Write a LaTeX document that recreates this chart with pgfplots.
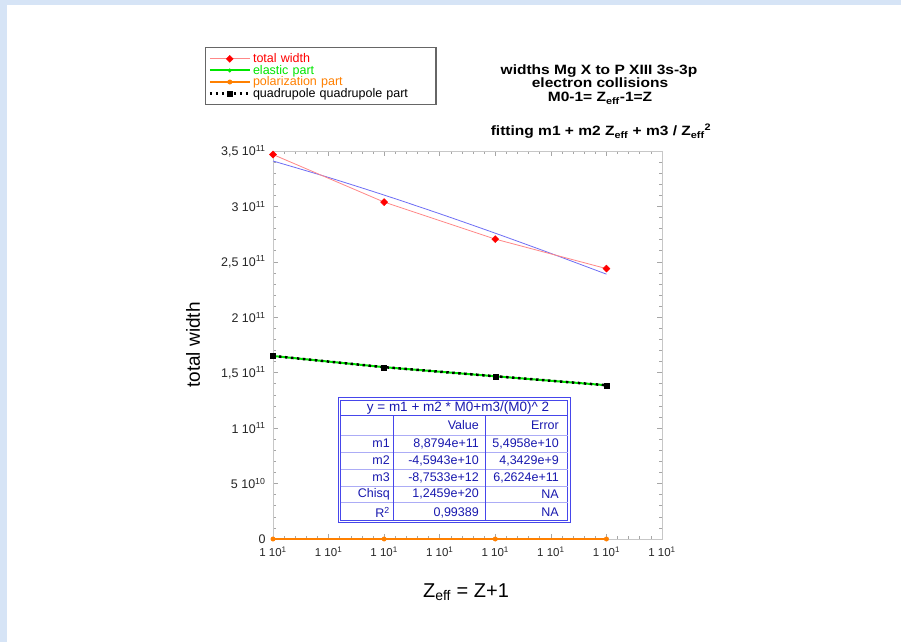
\documentclass[border=0pt]{standalone}
\usepackage{pgfplots}
\pgfplotsset{compat=1.18}
\usepackage{fontspec}
\setmainfont{Liberation Sans}
\newfontfamily\titlefont[FakeStretch=1.15]{Liberation Sans}
\definecolor{bgblue}{RGB}{214,228,246}
\definecolor{fitblue}{RGB}{110,110,245}
\definecolor{totred}{RGB}{255,135,135}
\definecolor{elgreen}{RGB}{0,230,0}
\definecolor{polorange}{RGB}{255,128,0}
\definecolor{tabblue}{RGB}{70,70,235}
\definecolor{tabtext}{RGB}{25,25,175}
\begin{document}
\begin{tikzpicture}[x=1pt,y=1pt]
\path[use as bounding box] (0pt,0pt) rectangle (901pt,642pt);
\fill[bgblue] (0pt,0pt) rectangle (901pt,642pt);
\fill[white] (7pt,0pt) rectangle (901pt,637pt);
\begin{axis}[
 at={(273pt,103pt)}, anchor=south west, scale only axis, width=389pt, height=388pt,
 xmin=10, xmax=13.5, ymin=0, ymax=3.5e11,
 xtick={10,10.5,11,11.5,12,12.5,13,13.5},
 xticklabel={1 10\textsuperscript{1}},
 ytick={0,5e10,1e11,1.5e11,2e11,2.5e11,3e11,3.5e11},
 yticklabels={0, 5 10\textsuperscript{10}, 1 10\textsuperscript{11}, {1,5 10\textsuperscript{11}}, 2 10\textsuperscript{11}, {2,5 10\textsuperscript{11}}, 3 10\textsuperscript{11}, {3,5 10\textsuperscript{11}}},
 scaled y ticks=false, scaled x ticks=false,
 minor x tick num=4, minor y tick num=4,
 tick align=inside,
 axis line style={draw=black!22, line width=0.8pt},
 major tick length=5pt, minor tick length=3pt,
 every tick/.style={black!35, line width=0.6pt},
 tick label style={font=\fontsize{11.5}{13}\selectfont, text=black!85},
 yticklabel style={font=\fontsize{12.5}{14}\selectfont, xshift=-4pt},
 xticklabel style={yshift=-4.5pt},
 clip=false,
 legend image code/.code={\draw[mark repeat=2,mark phase=2] plot coordinates {(0pt,0pt) (20pt,0pt) (40pt,0pt)};},
 legend style={at={(-0.175,1.268)}, anchor=north west, draw=black!60, line width=1.2pt, fill=white,
   font=\fontsize{12.5}{13}\selectfont, row sep=-3pt, inner xsep=3pt, inner ysep=4pt,
   /tikz/every even column/.append style={text width=178pt}},
 legend cell align=left,
]
\addplot[fitblue, line width=0.8pt, smooth, forget plot] coordinates {
 (10,3.4098e11) (10.5,3.2614e11) (11,3.1023e11) (11.5,2.9341e11) (12,2.7584e11) (12.5,2.5763e11) (13,2.3889e11)};
\addplot[totred, line width=0.8pt, mark=square*, mark size=2.5pt, mark options={rotate=45, fill=red, draw=red, line width=0.4pt}] coordinates {
 (10,3.468e11) (11,3.039e11) (12,2.705e11) (13,2.439e11)};
\addlegendentry{\textcolor{red}{total width}}
\addplot[elgreen, line width=2pt, mark=*, mark size=1.8pt, mark options={fill=elgreen, draw=elgreen, line width=0.5pt}] coordinates {
 (10,1.651e11) (11,1.550e11) (12,1.468e11) (13,1.387e11)};
\addlegendentry{\textcolor{elgreen}{elastic part}}
\addplot[polorange, line width=1.5pt, mark=*, mark size=2.2pt, mark options={fill=polorange, draw=polorange, line width=0.5pt}] coordinates {
 (10,0) (11,0) (12,0) (13,0)};
\addlegendentry{\textcolor{polorange}{polarization part}}
\addplot[black, line width=2.5pt, dash pattern=on 2.5pt off 3.5pt, mark=square*, mark size=2.5pt, mark options={solid, fill=black, line width=0.3pt}] coordinates {
 (10,1.651e11) (11,1.550e11) (12,1.468e11) (13,1.387e11)};
\addlegendentry{quadrupole quadrupole part}
\end{axis}
% titles
\begin{scope}[every node/.style={font=\titlefont\fontsize{13.5}{15}\selectfont\bfseries, inner sep=0pt, anchor=base}]
\node at (599pt,567pt) {widths Mg X to P XIII 3s-3p};
\node at (600pt,554pt) {electron collisions};
\node at (600pt,540pt) {M0-1= Z\textsubscript{eff}-1=Z};
\node at (601pt,506pt) {fitting m1 + m2 Z\textsubscript{eff} + m3 / Z\textsubscript{eff}\textsuperscript{2}};
\end{scope}
\node[rotate=90, font=\fontsize{19}{21}\selectfont] at (193pt,297pt) {total width};
\node[anchor=base, font=\fontsize{20}{22}\selectfont] at (466pt,45pt) {Z\textsubscript{eff} = Z+1};
% fit table
\fill[white] (338pt,119pt) rectangle (570pt,244pt);
\draw[tabblue, line width=1pt] (338pt,119pt) rectangle (570pt,244pt);
\draw[tabblue, line width=0.7pt] (340.5pt,121.5pt) rectangle (567.5pt,241.5pt);
\draw[tabblue, line width=1pt] (340.5pt,226pt) -- (567.5pt,226pt);
\foreach \yy in {207,190,173,156,140} {\draw[tabblue!45, line width=0.5pt] (340.5pt,\yy pt) -- (567.5pt,\yy pt);}
\draw[tabblue, line width=0.8pt] (393pt,121.5pt) -- (393pt,226pt);
\draw[tabblue, line width=0.8pt] (485pt,121.5pt) -- (485pt,226pt);
\begin{scope}[every node/.style={font=\fontsize{12.5}{14}\selectfont, text=tabtext, inner sep=0pt}]
\node[font=\fontsize{13.5}{15}\selectfont] at (458pt,234pt) {y = m1 + m2 * M0+m3/(M0)\textasciicircum\ 2};
\node[anchor=east] at (479pt,216.5pt) {Value};
\node[anchor=east] at (559pt,216.5pt) {Error};
\node[anchor=east] at (390pt,198.5pt) {m1};
\node[anchor=east] at (479pt,198.5pt) {8,8794e+11};
\node[anchor=east] at (559pt,198.5pt) {5,4958e+10};
\node[anchor=east] at (390pt,181.5pt) {m2};
\node[anchor=east] at (479pt,181.5pt) {-4,5943e+10};
\node[anchor=east] at (559pt,181.5pt) {4,3429e+9};
\node[anchor=east] at (390pt,164.5pt) {m3};
\node[anchor=east] at (479pt,164.5pt) {-8,7533e+12};
\node[anchor=east] at (559pt,164.5pt) {6,2624e+11};
\node[anchor=east] at (390pt,148pt) {Chisq};
\node[anchor=east] at (479pt,148pt) {1,2459e+20};
\node[anchor=east] at (559pt,148pt) {NA};
\node[anchor=east] at (390pt,129.5pt) {R\textsuperscript{2}};
\node[anchor=east] at (479pt,129.5pt) {0,99389};
\node[anchor=east] at (559pt,129.5pt) {NA};
\end{scope}
\end{tikzpicture}
\end{document}
